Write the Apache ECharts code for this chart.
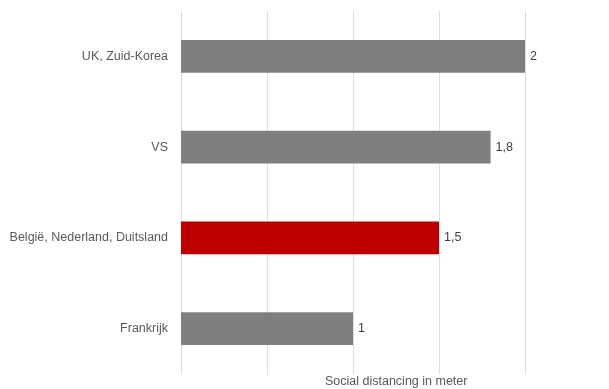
<!DOCTYPE html>
<html>
<head>
<meta charset="utf-8">
<script src="https://cdn.jsdelivr.net/npm/echarts@6/dist/echarts.min.js"></script>
<style>
  html, body { margin: 0; padding: 0; background: #fff; }
  #main { width: 609px; height: 389px; }
</style>
</head>
<body>
<div id="main"></div>
<script>
// data, top to bottom
var landen = ['UK, Zuid-Korea', 'VS', 'België, Nederland, Duitsland', 'Frankrijk'];
var afstand = [2, 1.8, 1.5, 1];
var kleuren = ['#7f7f7f', '#7f7f7f', '#c00000', '#7f7f7f'];
var asTitel = 'Social distancing in meter';

var font = 'Liberation Sans, Arial, sans-serif';
var myChart = echarts.init(document.getElementById('main'));

var option = {
    animation: false,
    grid: {
        left: 181,
        right: 84,
        top: 11,
        bottom: 15
    },
    xAxis: {
        type: 'value',
        min: 0,
        max: 2,
        interval: 0.5,
        axisLabel: { show: false },
        axisLine: { show: false },
        axisTick: { show: false },
        splitLine: { lineStyle: { color: '#dedede', width: 1 } }
    },
    yAxis: {
        type: 'category',
        inverse: true,
        data: landen,
        axisLine: { show: false },
        axisTick: { show: false },
        axisLabel: {
            margin: 13,
            color: '#595959',
            fontSize: 12.5,
            fontFamily: font
        }
    },
    graphic: [{
        type: 'text',
        left: 325,
        top: 375,
        style: {
            text: asTitel,
            fill: '#595959',
            fontSize: 12.5,
            fontFamily: font
        }
    }],
    series: [{
        type: 'bar',
        barWidth: '36%',
        data: afstand.map(function (v, i) {
            return { value: v, itemStyle: { color: kleuren[i] } };
        }),
        label: {
            show: true,
            position: 'right',
            distance: 5,
            color: '#404040',
            fontSize: 12.5,
            fontFamily: font,
            formatter: function (p) {
                return String(p.value).replace('.', ',');
            }
        }
    }]
};

myChart.setOption(option);
</script>
</body>
</html>
